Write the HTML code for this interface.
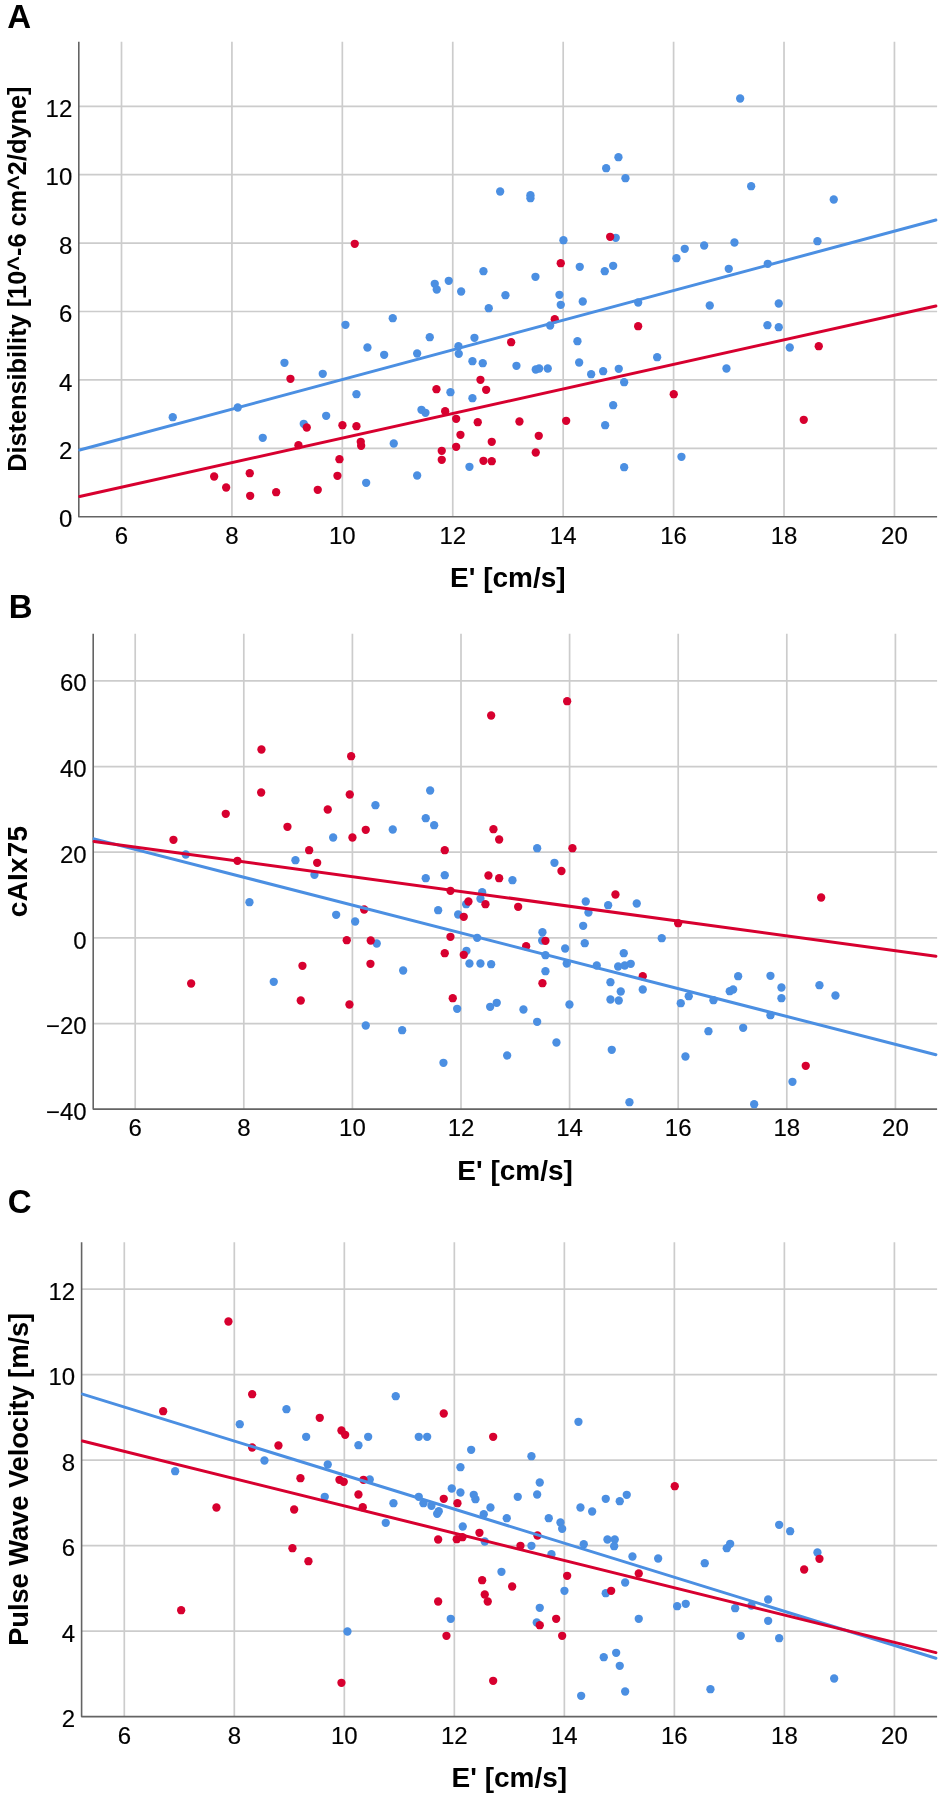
<!DOCTYPE html>
<html><head><meta charset="utf-8"><title>Scatter plots</title>
<style>html,body{margin:0;padding:0;background:#fff;width:945px;height:1799px;overflow:hidden;font-family:"Liberation Sans", sans-serif;}</style>
</head><body>
<svg width="945" height="1799" viewBox="0 0 945 1799" style="position:absolute;left:0;top:0;will-change:transform"><g stroke="#cccccc" stroke-width="1.7"><line x1="121.50" y1="41.80" x2="121.50" y2="516.70"/><line x1="231.92" y1="41.80" x2="231.92" y2="516.70"/><line x1="342.34" y1="41.80" x2="342.34" y2="516.70"/><line x1="452.76" y1="41.80" x2="452.76" y2="516.70"/><line x1="563.18" y1="41.80" x2="563.18" y2="516.70"/><line x1="673.60" y1="41.80" x2="673.60" y2="516.70"/><line x1="784.02" y1="41.80" x2="784.02" y2="516.70"/><line x1="894.44" y1="41.80" x2="894.44" y2="516.70"/><line x1="78.80" y1="448.30" x2="937.10" y2="448.30"/><line x1="78.80" y1="379.90" x2="937.10" y2="379.90"/><line x1="78.80" y1="311.50" x2="937.10" y2="311.50"/><line x1="78.80" y1="243.10" x2="937.10" y2="243.10"/><line x1="78.80" y1="174.70" x2="937.10" y2="174.70"/><line x1="78.80" y1="106.30" x2="937.10" y2="106.30"/></g><path d="M78.80 41.80V516.70H937.10" fill="none" stroke="#646464" stroke-width="1.6" stroke-linejoin="round"/><g fill="#4b8fe2"><circle cx="172.75" cy="417.20" r="4.15"/><circle cx="237.75" cy="407.50" r="4.15"/><circle cx="262.75" cy="437.80" r="4.15"/><circle cx="284.45" cy="362.80" r="4.15"/><circle cx="303.75" cy="423.80" r="4.15"/><circle cx="322.75" cy="373.80" r="4.15"/><circle cx="326.15" cy="415.80" r="4.15"/><circle cx="345.45" cy="324.80" r="4.15"/><circle cx="356.45" cy="394.20" r="4.15"/><circle cx="367.45" cy="347.50" r="4.15"/><circle cx="384.15" cy="354.80" r="4.15"/><circle cx="366.15" cy="482.80" r="4.15"/><circle cx="392.75" cy="318.20" r="4.15"/><circle cx="500.15" cy="191.50" r="4.15"/><circle cx="530.45" cy="195.20" r="4.15"/><circle cx="530.45" cy="198.20" r="4.15"/><circle cx="606.15" cy="168.20" r="4.15"/><circle cx="618.45" cy="157.20" r="4.15"/><circle cx="625.45" cy="178.20" r="4.15"/><circle cx="563.45" cy="240.20" r="4.15"/><circle cx="615.75" cy="237.80" r="4.15"/><circle cx="579.75" cy="266.80" r="4.15"/><circle cx="604.75" cy="271.20" r="4.15"/><circle cx="613.15" cy="265.80" r="4.15"/><circle cx="676.45" cy="258.20" r="4.15"/><circle cx="684.75" cy="248.80" r="4.15"/><circle cx="483.45" cy="271.20" r="4.15"/><circle cx="535.45" cy="276.80" r="4.15"/><circle cx="434.75" cy="283.80" r="4.15"/><circle cx="436.75" cy="289.50" r="4.15"/><circle cx="448.75" cy="280.80" r="4.15"/><circle cx="461.15" cy="291.50" r="4.15"/><circle cx="505.45" cy="295.20" r="4.15"/><circle cx="488.75" cy="308.20" r="4.15"/><circle cx="559.45" cy="294.80" r="4.15"/><circle cx="560.75" cy="304.80" r="4.15"/><circle cx="582.75" cy="301.50" r="4.15"/><circle cx="638.15" cy="302.50" r="4.15"/><circle cx="429.75" cy="337.20" r="4.15"/><circle cx="417.15" cy="353.50" r="4.15"/><circle cx="474.45" cy="337.80" r="4.15"/><circle cx="458.45" cy="346.20" r="4.15"/><circle cx="458.75" cy="353.80" r="4.15"/><circle cx="472.45" cy="361.20" r="4.15"/><circle cx="482.75" cy="363.20" r="4.15"/><circle cx="516.45" cy="365.80" r="4.15"/><circle cx="535.75" cy="369.50" r="4.15"/><circle cx="539.15" cy="368.50" r="4.15"/><circle cx="547.75" cy="368.50" r="4.15"/><circle cx="550.15" cy="325.50" r="4.15"/><circle cx="577.45" cy="341.20" r="4.15"/><circle cx="579.15" cy="362.50" r="4.15"/><circle cx="591.15" cy="374.20" r="4.15"/><circle cx="603.15" cy="371.20" r="4.15"/><circle cx="618.75" cy="368.80" r="4.15"/><circle cx="624.15" cy="382.20" r="4.15"/><circle cx="657.15" cy="357.20" r="4.15"/><circle cx="450.45" cy="392.20" r="4.15"/><circle cx="472.45" cy="398.20" r="4.15"/><circle cx="421.45" cy="409.80" r="4.15"/><circle cx="425.45" cy="412.80" r="4.15"/><circle cx="613.15" cy="405.20" r="4.15"/><circle cx="605.15" cy="425.20" r="4.15"/><circle cx="393.75" cy="443.50" r="4.15"/><circle cx="417.15" cy="475.50" r="4.15"/><circle cx="469.45" cy="466.80" r="4.15"/><circle cx="624.15" cy="467.20" r="4.15"/><circle cx="681.45" cy="456.80" r="4.15"/><circle cx="740.15" cy="98.50" r="4.15"/><circle cx="751.15" cy="186.20" r="4.15"/><circle cx="833.75" cy="199.50" r="4.15"/><circle cx="704.15" cy="245.50" r="4.15"/><circle cx="734.45" cy="242.50" r="4.15"/><circle cx="728.75" cy="268.80" r="4.15"/><circle cx="767.75" cy="263.80" r="4.15"/><circle cx="817.45" cy="241.20" r="4.15"/><circle cx="709.75" cy="305.50" r="4.15"/><circle cx="778.75" cy="303.50" r="4.15"/><circle cx="767.45" cy="325.20" r="4.15"/><circle cx="778.75" cy="327.20" r="4.15"/><circle cx="789.75" cy="347.50" r="4.15"/><circle cx="726.45" cy="368.50" r="4.15"/></g><g fill="#d7002f"><circle cx="354.75" cy="243.80" r="4.15"/><circle cx="290.45" cy="378.80" r="4.15"/><circle cx="306.75" cy="427.50" r="4.15"/><circle cx="298.45" cy="445.20" r="4.15"/><circle cx="342.45" cy="425.20" r="4.15"/><circle cx="356.45" cy="426.20" r="4.15"/><circle cx="360.75" cy="441.80" r="4.15"/><circle cx="361.15" cy="445.80" r="4.15"/><circle cx="339.45" cy="459.20" r="4.15"/><circle cx="337.45" cy="475.80" r="4.15"/><circle cx="214.15" cy="476.50" r="4.15"/><circle cx="226.15" cy="487.50" r="4.15"/><circle cx="249.75" cy="473.20" r="4.15"/><circle cx="250.15" cy="495.80" r="4.15"/><circle cx="276.15" cy="492.20" r="4.15"/><circle cx="317.75" cy="489.80" r="4.15"/><circle cx="610.15" cy="236.80" r="4.15"/><circle cx="560.75" cy="263.20" r="4.15"/><circle cx="554.75" cy="319.20" r="4.15"/><circle cx="638.15" cy="326.20" r="4.15"/><circle cx="511.15" cy="342.20" r="4.15"/><circle cx="480.45" cy="379.80" r="4.15"/><circle cx="436.45" cy="389.20" r="4.15"/><circle cx="486.15" cy="389.80" r="4.15"/><circle cx="673.75" cy="394.20" r="4.15"/><circle cx="445.15" cy="411.20" r="4.15"/><circle cx="456.15" cy="418.80" r="4.15"/><circle cx="477.75" cy="422.20" r="4.15"/><circle cx="519.45" cy="421.50" r="4.15"/><circle cx="566.15" cy="420.80" r="4.15"/><circle cx="460.45" cy="434.80" r="4.15"/><circle cx="538.75" cy="435.80" r="4.15"/><circle cx="491.75" cy="441.80" r="4.15"/><circle cx="456.15" cy="446.80" r="4.15"/><circle cx="441.75" cy="450.80" r="4.15"/><circle cx="441.75" cy="459.80" r="4.15"/><circle cx="535.75" cy="452.50" r="4.15"/><circle cx="483.45" cy="460.80" r="4.15"/><circle cx="491.75" cy="461.20" r="4.15"/><circle cx="818.75" cy="346.20" r="4.15"/><circle cx="803.75" cy="419.80" r="4.15"/></g><line x1="79.70" y1="450.06" x2="935.90" y2="220.02" stroke="#4b8fe2" stroke-width="3.0" stroke-linecap="round"/><line x1="79.70" y1="496.50" x2="935.90" y2="306.07" stroke="#d7002f" stroke-width="3.0" stroke-linecap="round"/><g font-family='"Liberation Sans", sans-serif' font-size="23.1" fill="#000" stroke="#000" stroke-width="0.15"><text transform="translate(72.30,527.30) scale(1.04,1)" text-anchor="end">0</text><text transform="translate(72.30,458.90) scale(1.04,1)" text-anchor="end">2</text><text transform="translate(72.30,390.50) scale(1.04,1)" text-anchor="end">4</text><text transform="translate(72.30,322.10) scale(1.04,1)" text-anchor="end">6</text><text transform="translate(72.30,253.70) scale(1.04,1)" text-anchor="end">8</text><text transform="translate(72.30,185.30) scale(1.04,1)" text-anchor="end">10</text><text transform="translate(72.30,116.90) scale(1.04,1)" text-anchor="end">12</text><text transform="translate(121.50,544.00) scale(1.04,1)" text-anchor="middle">6</text><text transform="translate(231.92,544.00) scale(1.04,1)" text-anchor="middle">8</text><text transform="translate(342.34,544.00) scale(1.04,1)" text-anchor="middle">10</text><text transform="translate(452.76,544.00) scale(1.04,1)" text-anchor="middle">12</text><text transform="translate(563.18,544.00) scale(1.04,1)" text-anchor="middle">14</text><text transform="translate(673.60,544.00) scale(1.04,1)" text-anchor="middle">16</text><text transform="translate(784.02,544.00) scale(1.04,1)" text-anchor="middle">18</text><text transform="translate(894.44,544.00) scale(1.04,1)" text-anchor="middle">20</text></g><text x="507.9" y="587.3" text-anchor="middle" font-family='"Liberation Sans", sans-serif' font-weight="bold" font-size="28">E' [cm/s]</text><text transform="translate(26.0,279.2) rotate(-90)" text-anchor="middle" font-family='"Liberation Sans", sans-serif' font-weight="bold" font-size="25.3" letter-spacing="0">Distensibility [10^-6 cm^2/dyne]</text><text x="7.300000000000001" y="28.0" font-family='"Liberation Sans", sans-serif' font-weight="bold" font-size="33">A</text><g stroke="#cccccc" stroke-width="1.7"><line x1="135.20" y1="633.70" x2="135.20" y2="1109.10"/><line x1="243.80" y1="633.70" x2="243.80" y2="1109.10"/><line x1="352.40" y1="633.70" x2="352.40" y2="1109.10"/><line x1="461.00" y1="633.70" x2="461.00" y2="1109.10"/><line x1="569.60" y1="633.70" x2="569.60" y2="1109.10"/><line x1="678.20" y1="633.70" x2="678.20" y2="1109.10"/><line x1="786.80" y1="633.70" x2="786.80" y2="1109.10"/><line x1="895.40" y1="633.70" x2="895.40" y2="1109.10"/><line x1="93.20" y1="1023.58" x2="937.10" y2="1023.58"/><line x1="93.20" y1="937.90" x2="937.10" y2="937.90"/><line x1="93.20" y1="852.22" x2="937.10" y2="852.22"/><line x1="93.20" y1="766.54" x2="937.10" y2="766.54"/><line x1="93.20" y1="680.86" x2="937.10" y2="680.86"/></g><path d="M93.20 633.70V1109.10H937.10" fill="none" stroke="#646464" stroke-width="1.6" stroke-linejoin="round"/><g fill="#4b8fe2"><circle cx="375.45" cy="805.20" r="4.15"/><circle cx="392.75" cy="829.50" r="4.15"/><circle cx="333.15" cy="837.50" r="4.15"/><circle cx="185.75" cy="854.50" r="4.15"/><circle cx="295.45" cy="860.20" r="4.15"/><circle cx="314.45" cy="874.80" r="4.15"/><circle cx="249.45" cy="902.20" r="4.15"/><circle cx="336.15" cy="914.80" r="4.15"/><circle cx="355.15" cy="921.50" r="4.15"/><circle cx="376.75" cy="943.50" r="4.15"/><circle cx="273.75" cy="981.80" r="4.15"/><circle cx="403.15" cy="970.50" r="4.15"/><circle cx="365.75" cy="1025.50" r="4.15"/><circle cx="402.15" cy="1030.20" r="4.15"/><circle cx="430.15" cy="790.50" r="4.15"/><circle cx="425.75" cy="818.20" r="4.15"/><circle cx="434.15" cy="825.20" r="4.15"/><circle cx="537.15" cy="848.20" r="4.15"/><circle cx="554.45" cy="862.80" r="4.15"/><circle cx="425.75" cy="878.20" r="4.15"/><circle cx="444.75" cy="875.20" r="4.15"/><circle cx="512.45" cy="880.20" r="4.15"/><circle cx="482.15" cy="892.20" r="4.15"/><circle cx="480.45" cy="898.80" r="4.15"/><circle cx="466.15" cy="904.20" r="4.15"/><circle cx="438.15" cy="910.20" r="4.15"/><circle cx="458.15" cy="914.50" r="4.15"/><circle cx="585.75" cy="901.50" r="4.15"/><circle cx="588.45" cy="912.50" r="4.15"/><circle cx="608.15" cy="905.20" r="4.15"/><circle cx="636.75" cy="903.50" r="4.15"/><circle cx="583.15" cy="925.80" r="4.15"/><circle cx="542.45" cy="932.20" r="4.15"/><circle cx="542.15" cy="940.50" r="4.15"/><circle cx="477.15" cy="937.80" r="4.15"/><circle cx="584.75" cy="943.20" r="4.15"/><circle cx="565.15" cy="948.50" r="4.15"/><circle cx="661.75" cy="938.20" r="4.15"/><circle cx="466.45" cy="950.80" r="4.15"/><circle cx="545.45" cy="955.20" r="4.15"/><circle cx="623.75" cy="953.20" r="4.15"/><circle cx="469.45" cy="963.50" r="4.15"/><circle cx="480.45" cy="963.50" r="4.15"/><circle cx="491.15" cy="964.20" r="4.15"/><circle cx="566.75" cy="963.50" r="4.15"/><circle cx="596.75" cy="965.50" r="4.15"/><circle cx="618.15" cy="966.50" r="4.15"/><circle cx="624.75" cy="965.50" r="4.15"/><circle cx="630.75" cy="963.80" r="4.15"/><circle cx="545.45" cy="971.20" r="4.15"/><circle cx="610.45" cy="982.20" r="4.15"/><circle cx="620.75" cy="991.50" r="4.15"/><circle cx="642.75" cy="989.50" r="4.15"/><circle cx="610.45" cy="999.50" r="4.15"/><circle cx="618.75" cy="1000.50" r="4.15"/><circle cx="680.75" cy="1003.20" r="4.15"/><circle cx="688.75" cy="996.20" r="4.15"/><circle cx="457.15" cy="1008.80" r="4.15"/><circle cx="490.15" cy="1006.80" r="4.15"/><circle cx="496.75" cy="1002.80" r="4.15"/><circle cx="523.45" cy="1009.50" r="4.15"/><circle cx="569.45" cy="1004.50" r="4.15"/><circle cx="537.15" cy="1021.80" r="4.15"/><circle cx="556.45" cy="1042.50" r="4.15"/><circle cx="611.75" cy="1049.80" r="4.15"/><circle cx="685.45" cy="1056.50" r="4.15"/><circle cx="507.15" cy="1055.50" r="4.15"/><circle cx="443.45" cy="1062.80" r="4.15"/><circle cx="629.45" cy="1102.20" r="4.15"/><circle cx="713.45" cy="1000.20" r="4.15"/><circle cx="729.75" cy="991.20" r="4.15"/><circle cx="733.15" cy="989.50" r="4.15"/><circle cx="738.15" cy="976.20" r="4.15"/><circle cx="770.45" cy="975.80" r="4.15"/><circle cx="781.45" cy="987.50" r="4.15"/><circle cx="781.45" cy="998.20" r="4.15"/><circle cx="819.45" cy="985.20" r="4.15"/><circle cx="835.45" cy="995.50" r="4.15"/><circle cx="770.45" cy="1015.20" r="4.15"/><circle cx="708.45" cy="1031.20" r="4.15"/><circle cx="743.15" cy="1027.80" r="4.15"/><circle cx="792.45" cy="1081.80" r="4.15"/><circle cx="754.15" cy="1104.20" r="4.15"/></g><g fill="#d7002f"><circle cx="261.45" cy="749.50" r="4.15"/><circle cx="351.15" cy="756.20" r="4.15"/><circle cx="261.15" cy="792.50" r="4.15"/><circle cx="349.75" cy="794.50" r="4.15"/><circle cx="225.75" cy="813.80" r="4.15"/><circle cx="327.75" cy="809.50" r="4.15"/><circle cx="287.45" cy="826.80" r="4.15"/><circle cx="365.75" cy="829.80" r="4.15"/><circle cx="352.45" cy="837.50" r="4.15"/><circle cx="173.45" cy="839.80" r="4.15"/><circle cx="309.15" cy="850.20" r="4.15"/><circle cx="317.15" cy="862.80" r="4.15"/><circle cx="237.45" cy="860.80" r="4.15"/><circle cx="364.15" cy="909.50" r="4.15"/><circle cx="346.75" cy="940.20" r="4.15"/><circle cx="370.75" cy="940.50" r="4.15"/><circle cx="302.45" cy="965.80" r="4.15"/><circle cx="370.45" cy="963.80" r="4.15"/><circle cx="191.15" cy="983.50" r="4.15"/><circle cx="300.75" cy="1000.50" r="4.15"/><circle cx="349.45" cy="1004.50" r="4.15"/><circle cx="491.15" cy="715.50" r="4.15"/><circle cx="567.15" cy="701.20" r="4.15"/><circle cx="493.45" cy="829.20" r="4.15"/><circle cx="499.15" cy="839.50" r="4.15"/><circle cx="444.75" cy="850.20" r="4.15"/><circle cx="572.45" cy="848.20" r="4.15"/><circle cx="561.45" cy="871.00" r="4.15"/><circle cx="488.45" cy="875.50" r="4.15"/><circle cx="499.15" cy="878.20" r="4.15"/><circle cx="450.45" cy="890.80" r="4.15"/><circle cx="468.45" cy="901.50" r="4.15"/><circle cx="485.45" cy="904.20" r="4.15"/><circle cx="463.75" cy="916.80" r="4.15"/><circle cx="518.15" cy="906.80" r="4.15"/><circle cx="615.45" cy="894.50" r="4.15"/><circle cx="678.15" cy="923.20" r="4.15"/><circle cx="450.45" cy="936.80" r="4.15"/><circle cx="545.45" cy="940.80" r="4.15"/><circle cx="526.15" cy="946.20" r="4.15"/><circle cx="444.75" cy="953.20" r="4.15"/><circle cx="463.75" cy="954.80" r="4.15"/><circle cx="542.45" cy="983.20" r="4.15"/><circle cx="642.75" cy="976.20" r="4.15"/><circle cx="452.75" cy="998.20" r="4.15"/><circle cx="821.15" cy="897.50" r="4.15"/><circle cx="805.75" cy="1065.80" r="4.15"/></g><line x1="94.10" y1="838.83" x2="935.90" y2="1054.69" stroke="#4b8fe2" stroke-width="3.0" stroke-linecap="round"/><line x1="94.10" y1="841.42" x2="935.90" y2="956.24" stroke="#d7002f" stroke-width="3.0" stroke-linecap="round"/><g font-family='"Liberation Sans", sans-serif' font-size="23.1" fill="#000" stroke="#000" stroke-width="0.15"><text transform="translate(86.70,1119.86) scale(1.04,1)" text-anchor="end">−40</text><text transform="translate(86.70,1034.18) scale(1.04,1)" text-anchor="end">−20</text><text transform="translate(86.70,948.50) scale(1.04,1)" text-anchor="end">0</text><text transform="translate(86.70,862.82) scale(1.04,1)" text-anchor="end">20</text><text transform="translate(86.70,777.14) scale(1.04,1)" text-anchor="end">40</text><text transform="translate(86.70,691.46) scale(1.04,1)" text-anchor="end">60</text><text transform="translate(135.20,1136.40) scale(1.04,1)" text-anchor="middle">6</text><text transform="translate(243.80,1136.40) scale(1.04,1)" text-anchor="middle">8</text><text transform="translate(352.40,1136.40) scale(1.04,1)" text-anchor="middle">10</text><text transform="translate(461.00,1136.40) scale(1.04,1)" text-anchor="middle">12</text><text transform="translate(569.60,1136.40) scale(1.04,1)" text-anchor="middle">14</text><text transform="translate(678.20,1136.40) scale(1.04,1)" text-anchor="middle">16</text><text transform="translate(786.80,1136.40) scale(1.04,1)" text-anchor="middle">18</text><text transform="translate(895.40,1136.40) scale(1.04,1)" text-anchor="middle">20</text></g><text x="515.1" y="1179.7" text-anchor="middle" font-family='"Liberation Sans", sans-serif' font-weight="bold" font-size="28">E' [cm/s]</text><text transform="translate(27.2,871.4) rotate(-90)" text-anchor="middle" font-family='"Liberation Sans", sans-serif' font-weight="bold" font-size="28" letter-spacing="0.2">cAIx75</text><text x="8.8" y="617.6" font-family='"Liberation Sans", sans-serif' font-weight="bold" font-size="33">B</text><g stroke="#cccccc" stroke-width="1.7"><line x1="124.30" y1="1242.20" x2="124.30" y2="1716.60"/><line x1="234.31" y1="1242.20" x2="234.31" y2="1716.60"/><line x1="344.33" y1="1242.20" x2="344.33" y2="1716.60"/><line x1="454.34" y1="1242.20" x2="454.34" y2="1716.60"/><line x1="564.36" y1="1242.20" x2="564.36" y2="1716.60"/><line x1="674.37" y1="1242.20" x2="674.37" y2="1716.60"/><line x1="784.38" y1="1242.20" x2="784.38" y2="1716.60"/><line x1="894.40" y1="1242.20" x2="894.40" y2="1716.60"/><line x1="81.60" y1="1631.10" x2="937.10" y2="1631.10"/><line x1="81.60" y1="1545.60" x2="937.10" y2="1545.60"/><line x1="81.60" y1="1460.10" x2="937.10" y2="1460.10"/><line x1="81.60" y1="1374.60" x2="937.10" y2="1374.60"/><line x1="81.60" y1="1289.10" x2="937.10" y2="1289.10"/></g><path d="M81.60 1242.20V1716.60H937.10" fill="none" stroke="#646464" stroke-width="1.6" stroke-linejoin="round"/><g fill="#4b8fe2"><circle cx="286.45" cy="1409.20" r="4.15"/><circle cx="239.75" cy="1424.20" r="4.15"/><circle cx="306.15" cy="1436.80" r="4.15"/><circle cx="368.15" cy="1436.80" r="4.15"/><circle cx="358.45" cy="1445.20" r="4.15"/><circle cx="264.45" cy="1460.50" r="4.15"/><circle cx="327.75" cy="1464.50" r="4.15"/><circle cx="175.15" cy="1471.20" r="4.15"/><circle cx="369.75" cy="1479.50" r="4.15"/><circle cx="324.75" cy="1496.80" r="4.15"/><circle cx="385.75" cy="1522.80" r="4.15"/><circle cx="393.45" cy="1503.20" r="4.15"/><circle cx="347.45" cy="1631.50" r="4.15"/><circle cx="395.75" cy="1396.20" r="4.15"/><circle cx="418.75" cy="1436.80" r="4.15"/><circle cx="427.15" cy="1436.80" r="4.15"/><circle cx="471.15" cy="1449.80" r="4.15"/><circle cx="531.45" cy="1456.20" r="4.15"/><circle cx="460.45" cy="1467.20" r="4.15"/><circle cx="578.45" cy="1421.80" r="4.15"/><circle cx="539.75" cy="1482.50" r="4.15"/><circle cx="418.75" cy="1496.80" r="4.15"/><circle cx="423.45" cy="1503.20" r="4.15"/><circle cx="431.45" cy="1505.80" r="4.15"/><circle cx="437.15" cy="1513.80" r="4.15"/><circle cx="438.75" cy="1511.20" r="4.15"/><circle cx="451.75" cy="1488.50" r="4.15"/><circle cx="460.45" cy="1492.50" r="4.15"/><circle cx="473.75" cy="1494.80" r="4.15"/><circle cx="475.45" cy="1499.20" r="4.15"/><circle cx="490.45" cy="1507.50" r="4.15"/><circle cx="483.75" cy="1514.20" r="4.15"/><circle cx="462.75" cy="1526.50" r="4.15"/><circle cx="484.75" cy="1541.50" r="4.15"/><circle cx="506.75" cy="1518.20" r="4.15"/><circle cx="517.75" cy="1496.80" r="4.15"/><circle cx="537.15" cy="1494.50" r="4.15"/><circle cx="548.75" cy="1518.20" r="4.15"/><circle cx="560.45" cy="1522.50" r="4.15"/><circle cx="562.15" cy="1528.80" r="4.15"/><circle cx="531.45" cy="1545.80" r="4.15"/><circle cx="551.45" cy="1554.20" r="4.15"/><circle cx="580.45" cy="1507.50" r="4.15"/><circle cx="592.15" cy="1511.50" r="4.15"/><circle cx="605.75" cy="1498.80" r="4.15"/><circle cx="619.75" cy="1501.20" r="4.15"/><circle cx="626.75" cy="1494.80" r="4.15"/><circle cx="583.75" cy="1544.20" r="4.15"/><circle cx="607.45" cy="1539.50" r="4.15"/><circle cx="614.75" cy="1539.50" r="4.15"/><circle cx="614.15" cy="1546.20" r="4.15"/><circle cx="632.45" cy="1556.50" r="4.15"/><circle cx="658.15" cy="1558.50" r="4.15"/><circle cx="501.45" cy="1571.80" r="4.15"/><circle cx="564.45" cy="1590.80" r="4.15"/><circle cx="605.75" cy="1593.20" r="4.15"/><circle cx="625.15" cy="1582.50" r="4.15"/><circle cx="677.15" cy="1606.20" r="4.15"/><circle cx="685.75" cy="1603.80" r="4.15"/><circle cx="539.75" cy="1607.80" r="4.15"/><circle cx="536.75" cy="1622.50" r="4.15"/><circle cx="450.75" cy="1618.80" r="4.15"/><circle cx="638.75" cy="1618.80" r="4.15"/><circle cx="603.75" cy="1657.20" r="4.15"/><circle cx="616.15" cy="1652.80" r="4.15"/><circle cx="619.75" cy="1665.80" r="4.15"/><circle cx="625.15" cy="1691.50" r="4.15"/><circle cx="581.15" cy="1695.80" r="4.15"/><circle cx="704.75" cy="1563.20" r="4.15"/><circle cx="726.75" cy="1548.20" r="4.15"/><circle cx="730.15" cy="1543.80" r="4.15"/><circle cx="779.15" cy="1524.80" r="4.15"/><circle cx="790.15" cy="1531.20" r="4.15"/><circle cx="817.45" cy="1552.50" r="4.15"/><circle cx="735.15" cy="1608.20" r="4.15"/><circle cx="751.45" cy="1605.50" r="4.15"/><circle cx="768.15" cy="1599.50" r="4.15"/><circle cx="768.15" cy="1620.80" r="4.15"/><circle cx="740.75" cy="1635.80" r="4.15"/><circle cx="779.15" cy="1638.20" r="4.15"/><circle cx="834.15" cy="1678.50" r="4.15"/><circle cx="710.45" cy="1689.20" r="4.15"/></g><g fill="#d7002f"><circle cx="228.45" cy="1321.50" r="4.15"/><circle cx="252.15" cy="1394.20" r="4.15"/><circle cx="163.15" cy="1411.20" r="4.15"/><circle cx="319.75" cy="1417.80" r="4.15"/><circle cx="341.45" cy="1430.50" r="4.15"/><circle cx="345.15" cy="1434.80" r="4.15"/><circle cx="278.45" cy="1445.50" r="4.15"/><circle cx="252.15" cy="1447.50" r="4.15"/><circle cx="300.45" cy="1478.20" r="4.15"/><circle cx="339.45" cy="1479.80" r="4.15"/><circle cx="343.75" cy="1481.80" r="4.15"/><circle cx="363.45" cy="1479.80" r="4.15"/><circle cx="358.45" cy="1494.50" r="4.15"/><circle cx="362.75" cy="1507.20" r="4.15"/><circle cx="216.45" cy="1507.50" r="4.15"/><circle cx="294.15" cy="1509.50" r="4.15"/><circle cx="292.45" cy="1548.20" r="4.15"/><circle cx="308.45" cy="1561.20" r="4.15"/><circle cx="181.15" cy="1610.20" r="4.15"/><circle cx="341.45" cy="1682.80" r="4.15"/><circle cx="443.75" cy="1413.50" r="4.15"/><circle cx="493.15" cy="1436.80" r="4.15"/><circle cx="443.75" cy="1498.80" r="4.15"/><circle cx="457.45" cy="1503.20" r="4.15"/><circle cx="438.15" cy="1539.50" r="4.15"/><circle cx="456.75" cy="1539.20" r="4.15"/><circle cx="462.45" cy="1537.20" r="4.15"/><circle cx="479.45" cy="1532.80" r="4.15"/><circle cx="537.45" cy="1535.50" r="4.15"/><circle cx="520.45" cy="1545.80" r="4.15"/><circle cx="567.15" cy="1575.80" r="4.15"/><circle cx="482.15" cy="1580.20" r="4.15"/><circle cx="512.15" cy="1586.50" r="4.15"/><circle cx="484.75" cy="1594.50" r="4.15"/><circle cx="487.75" cy="1601.50" r="4.15"/><circle cx="438.15" cy="1601.50" r="4.15"/><circle cx="556.15" cy="1618.80" r="4.15"/><circle cx="539.75" cy="1625.20" r="4.15"/><circle cx="446.45" cy="1635.80" r="4.15"/><circle cx="562.15" cy="1635.80" r="4.15"/><circle cx="493.15" cy="1680.80" r="4.15"/><circle cx="611.15" cy="1590.80" r="4.15"/><circle cx="638.75" cy="1573.50" r="4.15"/><circle cx="674.75" cy="1486.20" r="4.15"/><circle cx="804.15" cy="1569.50" r="4.15"/><circle cx="819.45" cy="1558.80" r="4.15"/></g><line x1="82.50" y1="1394.08" x2="935.90" y2="1658.23" stroke="#4b8fe2" stroke-width="3.0" stroke-linecap="round"/><line x1="82.50" y1="1440.92" x2="935.90" y2="1652.60" stroke="#d7002f" stroke-width="3.0" stroke-linecap="round"/><g font-family='"Liberation Sans", sans-serif' font-size="23.1" fill="#000" stroke="#000" stroke-width="0.15"><text transform="translate(75.10,1727.20) scale(1.04,1)" text-anchor="end">2</text><text transform="translate(75.10,1641.70) scale(1.04,1)" text-anchor="end">4</text><text transform="translate(75.10,1556.20) scale(1.04,1)" text-anchor="end">6</text><text transform="translate(75.10,1470.70) scale(1.04,1)" text-anchor="end">8</text><text transform="translate(75.10,1385.20) scale(1.04,1)" text-anchor="end">10</text><text transform="translate(75.10,1299.70) scale(1.04,1)" text-anchor="end">12</text><text transform="translate(124.30,1743.90) scale(1.04,1)" text-anchor="middle">6</text><text transform="translate(234.31,1743.90) scale(1.04,1)" text-anchor="middle">8</text><text transform="translate(344.33,1743.90) scale(1.04,1)" text-anchor="middle">10</text><text transform="translate(454.34,1743.90) scale(1.04,1)" text-anchor="middle">12</text><text transform="translate(564.36,1743.90) scale(1.04,1)" text-anchor="middle">14</text><text transform="translate(674.37,1743.90) scale(1.04,1)" text-anchor="middle">16</text><text transform="translate(784.38,1743.90) scale(1.04,1)" text-anchor="middle">18</text><text transform="translate(894.40,1743.90) scale(1.04,1)" text-anchor="middle">20</text></g><text x="509.4" y="1787.2" text-anchor="middle" font-family='"Liberation Sans", sans-serif' font-weight="bold" font-size="28">E' [cm/s]</text><text transform="translate(28.2,1479.4) rotate(-90)" text-anchor="middle" font-family='"Liberation Sans", sans-serif' font-weight="bold" font-size="27.4" letter-spacing="-0.1">Pulse Wave Velocity [m/s]</text><text x="7.800000000000001" y="1213.0" font-family='"Liberation Sans", sans-serif' font-weight="bold" font-size="33">C</text></svg>
</body></html>
